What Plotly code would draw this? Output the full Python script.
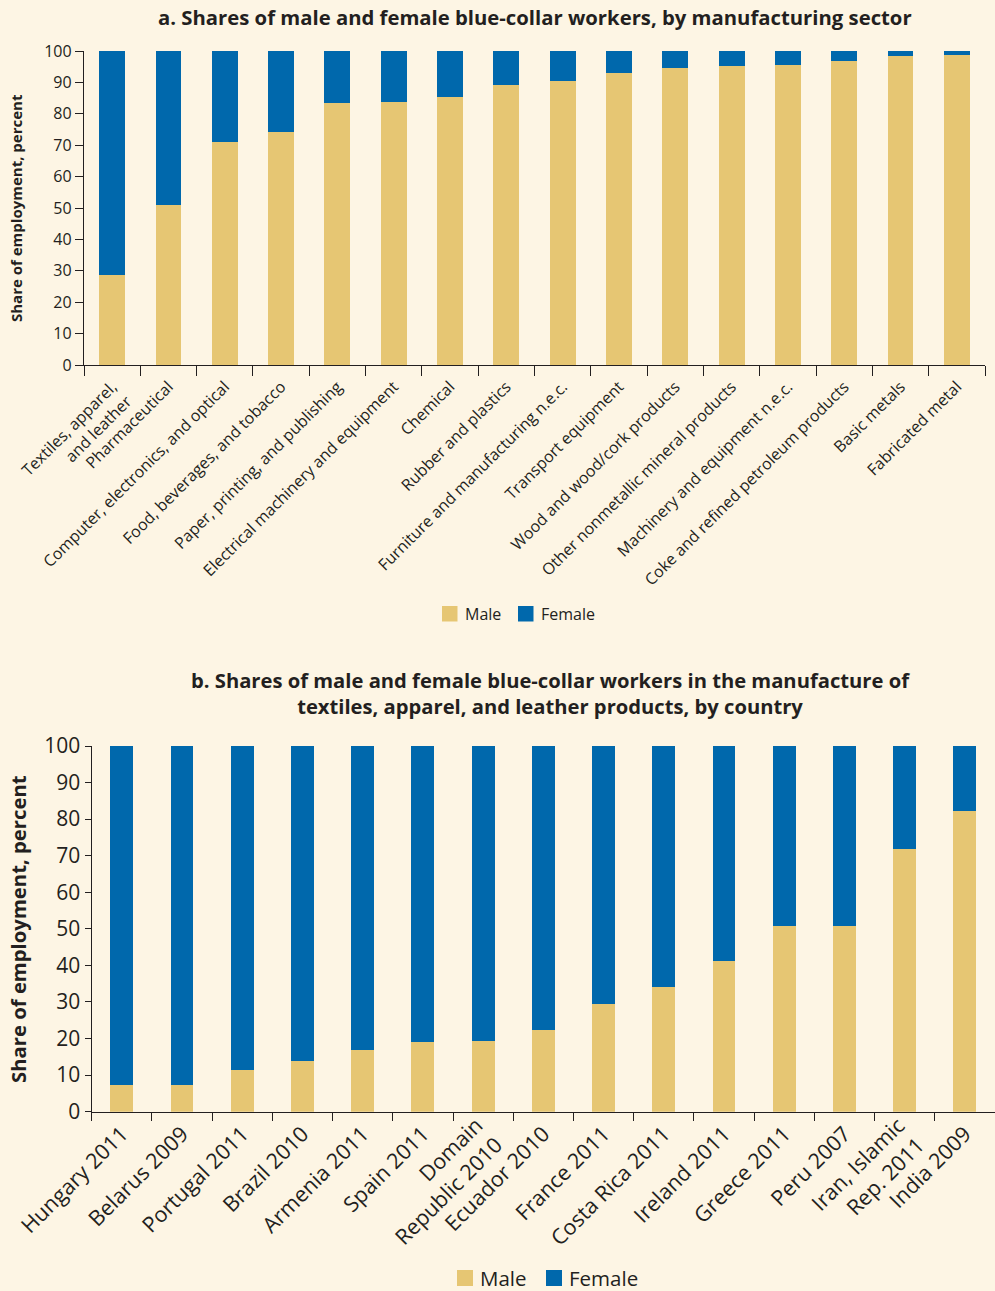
import plotly.graph_objects as go

# ---- Data ----
sectors = [
    "Textiles, apparel,<br>and leather", "Pharmaceutical", "Computer, electronics, and optical",
    "Food, beverages, and tobacco", "Paper, printing, and publishing",
    "Electrical machinery and equipment", "Chemical", "Rubber and plastics",
    "Furniture and manufacturing n.e.c.", "Transport equipment", "Wood and wood/cork products",
    "Other nonmetallic mineral products", "Machinery and equipment n.e.c.",
    "Coke and refined petroleum products", "Basic metals", "Fabricated metal",
]
sector_male = [28.7, 51.0, 71.0, 74.2, 83.4, 83.8, 85.4, 89.2, 90.4, 93.0, 94.6, 95.2, 95.5, 96.8, 98.4, 98.7]
sector_female = [round(100 - v, 1) for v in sector_male]

countries = [
    "Hungary 2011", "Belarus 2009", "Portugal 2011", "Brazil 2010", "Armenia 2011",
    "Spain 2011", "Domain<br>Republic 2010", "Ecuador 2010", "France 2011",
    "Costa Rica 2011", "Ireland 2011", "Greece 2011", "Peru 2007",
    "Iran, Islamic<br>Rep. 2011", "India 2009",
]
country_male = [7.3, 7.3, 11.4, 13.9, 16.9, 19.1, 19.3, 22.3, 29.4, 34.1, 41.2, 50.8, 50.8, 71.9, 82.2]
country_female = [round(100 - v, 1) for v in country_male]

y_ticks = list(range(0, 101, 10))
series_names = ["Male", "Female"]

# ---- Style ----
MALE = "#E6C673"
FEMALE = "#0068AC"
BG = "#FDF5E4"
INK = "#231F20"
FONT = "Open Sans"
W, H = 995, 1291
XLAB2 = 21.5

def px_y(p):
    return 1 - p / H

def px_x(p):
    return p / W

fig = go.Figure()

fig.add_trace(go.Bar(x=sectors, y=sector_male, name=series_names[0], marker_color=MALE, width=0.46,
                     marker_line_width=0, xaxis="x", yaxis="y", showlegend=False))
fig.add_trace(go.Bar(x=sectors, y=sector_female, name=series_names[1], marker_color=FEMALE, width=0.46,
                     marker_line_width=0, xaxis="x", yaxis="y", showlegend=False))
fig.add_trace(go.Bar(x=countries, y=country_male, name=series_names[0], marker_color=MALE, width=0.38,
                     marker_line_width=0, xaxis="x2", yaxis="y2", showlegend=False))
fig.add_trace(go.Bar(x=countries, y=country_female, name=series_names[1], marker_color=FEMALE, width=0.38,
                     marker_line_width=0, xaxis="x2", yaxis="y2", showlegend=False))

axis_common = dict(showline=True, linecolor=INK, linewidth=1.3, ticks="outside", tickcolor=INK,
                   tickwidth=1.3, showgrid=False, zeroline=False, fixedrange=True, automargin=False)

shapes = []
annotations = []

# manual legends (swatch + label), positioned in pixels
def legend(items, y_top, size, font_size):
    for (x0, color, tx, label) in items:
        shapes.append(dict(type="rect", xref="paper", yref="paper", line_width=0, fillcolor=color,
                           x0=px_x(x0), x1=px_x(x0 + size), y0=px_y(y_top + size), y1=px_y(y_top)))
        annotations.append(dict(text=label, x=px_x(tx), y=px_y(y_top + size / 2), xref="paper", yref="paper",
                                showarrow=False, xanchor="left", yanchor="middle",
                                font=dict(size=font_size, color=INK)))

legend([(442, MALE, 463, series_names[0]), (518, FEMALE, 539, series_names[1])], 606, 15.5, 16)
legend([(457, MALE, 478, series_names[0]), (546, FEMALE, 567, series_names[1])], 1270, 16, 20.5)

# two-line country labels: drawn as rotated annotations at their category (block centred on tick)
country_ticktext = [c if "<br>" not in c else "" for c in countries]
for c in countries:
    if "<br>" in c:
        annotations.append(dict(text=c, x=c, xref="x2", y=px_y(1108), yref="paper", showarrow=False,
                                textangle=-45, align="right", xanchor="right", yanchor="top",
                                xshift=28, font=dict(size=XLAB2, color=INK)))

annotations += [
    dict(text="<b>a. Shares of male and female blue-collar workers, by manufacturing sector</b>",
         x=px_x(535), y=px_y(17), xref="paper", yref="paper", showarrow=False,
         xanchor="center", yanchor="middle", font=dict(size=20.3, color=INK)),
    dict(text="<b>b. Shares of male and female blue-collar workers in the manufacture of<br>"
              "textiles, apparel, and leather products, by country</b>",
         x=px_x(550), y=px_y(693), xref="paper", yref="paper", showarrow=False,
         xanchor="center", yanchor="middle", align="center", font=dict(size=20.2, color=INK)),
    dict(text="<b>Share of employment, percent</b>", textangle=-90,
         x=px_x(16), y=px_y(208), xref="paper", yref="paper", showarrow=False,
         xanchor="center", yanchor="middle", font=dict(size=15, color=INK)),
    dict(text="<b>Share of employment, percent</b>", textangle=-90,
         x=px_x(18), y=px_y(929), xref="paper", yref="paper", showarrow=False,
         xanchor="center", yanchor="middle", font=dict(size=20.3, color=INK)),
]

fig.update_layout(
    width=W, height=H, barmode="stack", showlegend=False,
    paper_bgcolor=BG, plot_bgcolor=BG,
    margin=dict(l=0, r=0, t=0, b=0, autoexpand=False),
    font=dict(family=FONT, color=INK),
    xaxis=dict(**axis_common, domain=[px_x(84), px_x(985)], anchor="y", tickson="boundaries",
               ticklen=10, tickangle=-45, tickfont=dict(size=16), ticklabelstandoff=5,
               range=[-0.5, 15.5]),
    yaxis=dict(**axis_common, domain=[px_y(365), px_y(51)], anchor="x", range=[0, 100],
               tickvals=y_ticks, ticklen=8, tickfont=dict(size=16)),
    xaxis2=dict(**axis_common, domain=[px_x(91.7), 1.0], anchor="y2", tickson="boundaries",
                ticklen=8, tickangle=-45, tickfont=dict(size=XLAB2), range=[-0.5, 14.5],
                tickmode="array", tickvals=countries, ticktext=country_ticktext),
    yaxis2=dict(**axis_common, domain=[px_y(1111.7), px_y(746)], anchor="x2", range=[0, 100],
                tickvals=y_ticks, ticklen=6, tickfont=dict(size=21)),
    shapes=shapes,
    annotations=annotations,
)

fig.write_html("out.html", config={"displayModeBar": False},
               post_script="document.body.style.margin='0';document.body.style.overflow='hidden';")
